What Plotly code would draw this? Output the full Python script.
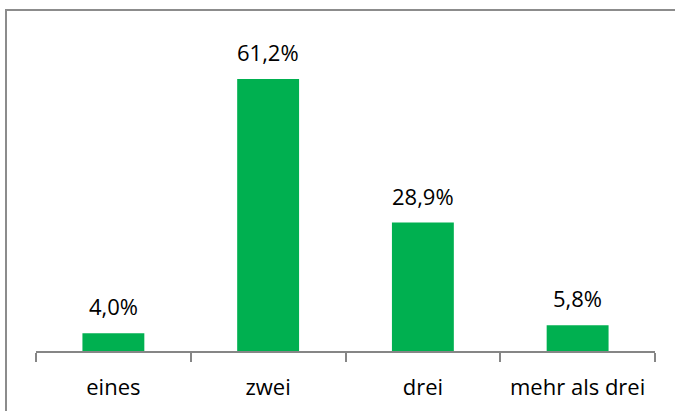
import plotly.graph_objects as go

categories = ["eines", "zwei", "drei", "mehr als drei"]
values = [4.0, 61.2, 28.9, 5.8]
labels = ["4,0%", "61,2%", "28,9%", "5,8%"]

W, H = 675, 411
FONT = "Open Sans"
fig = go.Figure(go.Bar(
    x=categories, y=values,
    marker=dict(color="#00B050", line=dict(width=0)),
    width=0.4,
))
for c, v, t in zip(categories, values, labels):
    fig.add_annotation(x=c, y=v, text=t, showarrow=False, yanchor="bottom",
                       yshift=10, font=dict(family=FONT, size=22, color="#000000"))
fig.update_layout(
    width=W, height=H, margin=dict(l=0, r=0, t=0, b=0),
    paper_bgcolor="white", plot_bgcolor="white", showlegend=False,
    font=dict(family=FONT, size=22, color="#000000"),
    xaxis=dict(domain=[36/W, 655/W], showline=True, linecolor="#868686", linewidth=2,
               ticks="outside", tickson="boundaries", ticklen=9, tickcolor="#868686", tickwidth=2,
               ticklabelstandoff=16, showgrid=False, anchor="y"),
    yaxis=dict(domain=[(H-351)/H, (H-40)/H], range=[0, 70], visible=False, showgrid=False),
    shapes=[dict(type="rect", xref="paper", yref="paper", x0=6/W, x1=1.02, y0=-0.02, y1=(H-10)/H,
                 line=dict(color="#8c8c8c", width=2))],
)
fig.write_html("out.html")
